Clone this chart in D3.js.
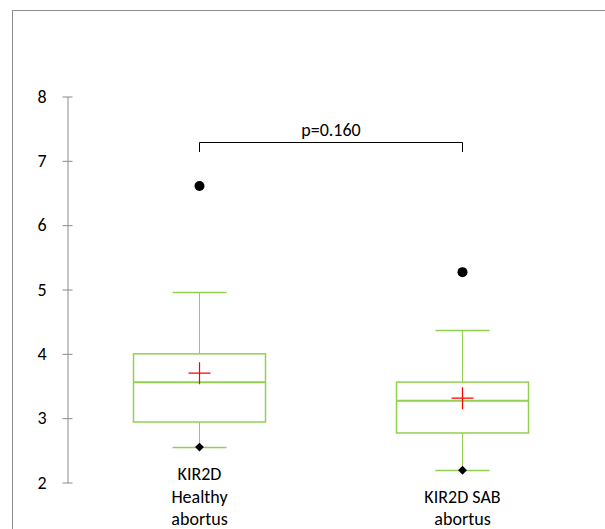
<!DOCTYPE html>
<html>
<head>
<meta charset="utf-8">
<script src="https://cdn.jsdelivr.net/npm/d3@7"></script>
<style>
  body { margin: 0; background: #fff; }
  text { font-family: Carlito, Calibri, "Liberation Sans", sans-serif; }
</style>
</head>
<body>
<script>
// chart data
var groups = ["KIR2D Healthy abortus", "KIR2D SAB abortus"];
var groupLines = [["KIR2D", "Healthy", "abortus"], ["KIR2D SAB", "abortus"]];
var whiskerLow = [2.55, 2.19];
var q1 = [2.94, 2.77];
var median = [3.56, 3.27];
var q3 = [4.00, 3.56];
var whiskerHigh = [4.96, 4.37];
var means = [3.70, 3.31];
var outliers = [6.61, 5.27];
var yTicks = [2, 3, 4, 5, 6, 7, 8];
var pLabel = "p=0.160";

var W = 605, H = 529;

var svg = d3.select("body").append("svg")
  .attr("width", W)
  .attr("height", H);

// outer frame (only top and left visible)
svg.append("rect")
  .attr("x", 12.5).attr("y", 10.5)
  .attr("width", 700).attr("height", 700)
  .style("fill", "none")
  .style("stroke", "#8c8c8c")
  .style("stroke-width", 1);

// scales
var yScale = d3.scaleLinear().domain([2, 8]).range([482.5, 96.5]);
var xScale = d3.scalePoint().domain(groups).range([199.5, 462.5]);

// y axis
var yaxis = d3.axisLeft(yScale)
  .tickValues(yTicks)
  .tickSize(5)
  .tickSizeOuter(0)
  .tickPadding(16)
  .tickFormat(d3.format("d"));

var gy = svg.append("g")
  .attr("transform", "translate(67.5,0)")
  .call(yaxis);
gy.select(".domain").style("stroke", "#8c8c8c");
gy.selectAll(".tick line").attr("x1", 5).attr("x2", -5).style("stroke", "#8c8c8c");
gy.selectAll(".tick text")
  .style("font-size", "18px")
  .style("fill", "#000");

var green = "#92d050";
var boxW = 132, capW = 54;

var boxes = svg.selectAll("g.box")
  .data(groups)
  .enter().append("g")
  .attr("class", "box");

// whiskers
boxes.append("line")
  .attr("x1", function(d) { return xScale(d); })
  .attr("x2", function(d) { return xScale(d); })
  .attr("y1", function(d, i) { return yScale(whiskerHigh[i]); })
  .attr("y2", function(d, i) { return yScale(q3[i]); })
  .style("stroke", green);
boxes.append("line")
  .attr("x1", function(d) { return xScale(d); })
  .attr("x2", function(d) { return xScale(d); })
  .attr("y1", function(d, i) { return yScale(q1[i]); })
  .attr("y2", function(d, i) { return yScale(whiskerLow[i]); })
  .style("stroke", green);

// caps
[whiskerHigh, whiskerLow].forEach(function(arr) {
  boxes.append("line")
    .attr("x1", function(d) { return xScale(d) - capW / 2; })
    .attr("x2", function(d) { return xScale(d) + capW / 2; })
    .attr("y1", function(d, i) { return Math.round(yScale(arr[i])) + 0.5; })
    .attr("y2", function(d, i) { return Math.round(yScale(arr[i])) + 0.5; })
    .style("stroke", green)
    .style("stroke-width", 1.5);
});

// box
boxes.append("rect")
  .attr("x", function(d) { return xScale(d) - boxW / 2; })
  .attr("y", function(d, i) { return yScale(q3[i]); })
  .attr("width", boxW)
  .attr("height", function(d, i) { return yScale(q1[i]) - yScale(q3[i]); })
  .style("fill", "none")
  .style("stroke", green)
  .style("stroke-width", 1.5);

// median
boxes.append("line")
  .attr("x1", function(d) { return xScale(d) - boxW / 2; })
  .attr("x2", function(d) { return xScale(d) + boxW / 2; })
  .attr("y1", function(d, i) { return yScale(median[i]); })
  .attr("y2", function(d, i) { return yScale(median[i]); })
  .style("stroke", green)
  .style("stroke-width", 2);

// mean cross
boxes.append("path")
  .attr("d", function(d, i) {
    var x = xScale(d), y = yScale(means[i]);
    return "M" + (x - 11) + "," + y + "H" + (x + 11) + "M" + x + "," + (y - 11) + "V" + (y + 11);
  })
  .style("stroke", "#ff0000")
  .style("stroke-width", 1.2)
  .style("fill", "none");

// min diamonds
boxes.append("path")
  .attr("d", d3.symbol().type(d3.symbolDiamond2).size(50))
  .attr("transform", function(d, i) {
    return "translate(" + xScale(d) + "," + yScale(whiskerLow[i]) + ")";
  })
  .style("fill", "#000");

// outliers
boxes.append("circle")
  .attr("cx", function(d) { return xScale(d); })
  .attr("cy", function(d, i) { return yScale(outliers[i]); })
  .attr("r", 5)
  .style("fill", "#000");

// category labels (bottom aligned)
boxes.each(function(d, i) {
  var t = d3.select(this).append("text")
    .attr("text-anchor", "middle")
    .style("font-size", "18px")
    .style("fill", "#000");
  var n = groupLines[i].length;
  groupLines[i].forEach(function(line, j) {
    t.append("tspan")
      .attr("x", xScale(d))
      .attr("y", 480 + (3 - n + j) * 22.5)
      .text(line);
  });
});

// significance bracket
var x1 = xScale(groups[0]), x2 = xScale(groups[1]);
svg.append("path")
  .attr("d", "M" + x1 + ",152V142.5H" + x2 + "V152")
  .style("fill", "none")
  .style("stroke", "#000")
  .style("stroke-width", 1);
svg.append("text")
  .attr("x", (x1 + x2) / 2)
  .attr("y", 136)
  .attr("text-anchor", "middle")
  .style("font-size", "18px")
  .text(pLabel);
</script>
</body>
</html>
